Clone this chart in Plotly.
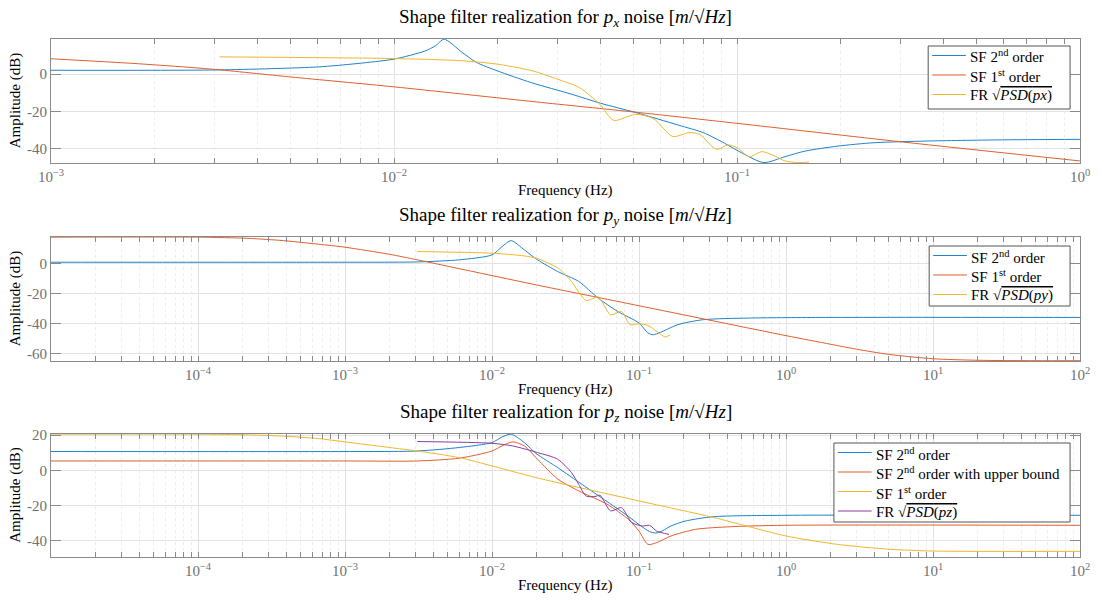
import plotly.graph_objects as go

# ---------------- data ----------------
# Subplot 1 : p_x
px_sf2_f = [1e-3, 3.1e-3, 6e-3, 7.8e-3, 1e-2, 1.23e-2, 1.32e-2, 1.4e-2, 1.58e-2, 1.74e-2, 2.0e-2,
            2.51e-2, 3.3e-2, 4.0e-2, 5.07e-2, 6.76e-2, 7.98e-2, 9.2e-2, 0.1038, 0.1197, 0.138,
            0.158, 0.197, 0.251, 0.358, 0.575, 1.0]
px_sf2_db = [2.1, 2.3, 3.9, 5.7, 8.1, 12.4, 15.2, 18.8, 11.7, 6.3, 1.8,
             -4.5, -10.8, -15.6, -20.6, -27.4, -31.4, -37.1, -42.5, -47.5, -44.3,
             -41.3, -38.6, -36.8, -35.9, -35.3, -35.0]
px_sf1_f = [1e-3, 1.8e-3, 2.95e-3, 5e-3, 1e-2, 2.6e-2, 5e-2, 0.1, 0.303, 1.0]
px_sf1_db = [8.3, 5.6, 2.7, -1.5, -6.8, -14.9, -20.3, -26.4, -36.4, -46.6]
px_fr_f = [3.1e-3, 1e-2, 1.58e-2, 2.0e-2, 2.51e-2, 3.0e-2, 3.47e-2, 3.98e-2, 4.37e-2, 5.07e-2,
           5.71e-2, 6.5e-2, 7.24e-2, 7.78e-2, 8.71e-2, 9.42e-2, 0.1, 0.1086, 0.1183, 0.1288,
           0.138, 0.151, 0.162]
px_fr_db = [9.3, 8.4, 7.2, 5.4, 2.0, -2.7, -7.2, -16.1, -24.8, -21.5,
            -23.9, -33.5, -31.4, -32.3, -40.4, -38.0, -39.5, -44.3, -41.6, -43.9,
            -46.6, -47.5, -47.2]

# Subplot 2 : p_y
py_sf2_f = [1e-5, 1e-3, 3.1e-3, 6e-3, 1e-2, 1.17e-2, 1.35e-2, 1.66e-2, 2.04e-2, 2.8e-2, 3.89e-2,
            5.28e-2, 7.16e-2, 0.1, 0.115, 0.125, 0.14, 0.184, 0.272, 0.558, 1.7, 100.0]
py_sf2_db = [1.1, 1.1, 1.3, 2.7, 6.0, 11.5, 15.5, 9.3, 2.7, -5.1, -11.7,
             -22.8, -31.7, -39.4, -46.0, -47.2, -45.6, -40.5, -37.2, -36.1, -35.7, -35.7]
py_sf1_f = [1e-5, 1e-4, 2.19e-4, 3.8e-4, 6.6e-4, 1e-3, 2e-3, 3.1e-3, 1e-2, 2e-2, 0.1, 1.0,
            2.0, 3.0, 5.0, 10.0, 20.0, 50.0, 100.0]
py_sf1_db = [17.8, 17.8, 17.0, 15.5, 13.1, 11.1, 6.4, 2.7, -7.8, -14.0, -27.9, -47.8,
             -53.5, -56.8, -60.3, -63.2, -64.2, -64.5, -64.5]
py_fr_f = [3.1e-3, 1e-2, 1.66e-2, 2e-2, 2.82e-2, 3.47e-2, 4.37e-2, 5.28e-2, 6.41e-2, 7.59e-2,
           8.71e-2, 0.1, 0.115, 0.132, 0.151, 0.163]
py_fr_db = [8.2, 7.1, 5.3, 3.8, -2.9, -11.7, -24.4, -22.1, -33.9, -31.7,
            -40.5, -39.9, -41.0, -45.0, -48.7, -47.2]

# Subplot 3 : p_z
pz_sf2_f = [1e-5, 1e-3, 3.1e-3, 6e-3, 1e-2, 1.17e-2, 1.35e-2, 1.66e-2, 2.0e-2, 2.8e-2, 4.12e-2,
            6.07e-2, 8.47e-2, 0.1, 0.118, 0.13, 0.145, 0.165, 0.206, 0.321, 1.0, 100.0]
pz_sf2_db = [10.7, 10.7, 11.0, 13.0, 15.8, 19.0, 20.6, 15.8, 9.5, 1.5, -8.2,
             -17.9, -26.3, -31.0, -35.0, -35.8, -34.5, -31.8, -29.0, -26.5, -25.7, -25.7]
pz_sf2ub_f = [1e-5, 1e-3, 3.1e-3, 6e-3, 1e-2, 1.17e-2, 1.38e-2, 1.66e-2, 2.04e-2, 2.8e-2, 3.89e-2,
              6.07e-2, 8.47e-2, 0.1, 0.115, 0.132, 0.165, 0.243, 0.424, 0.97, 100.0]
pz_sf2ub_db = [5.3, 5.3, 5.3, 6.9, 11.0, 13.9, 16.2, 13.9, 6.3, -5.0, -11.8,
               -19.4, -28.0, -34.7, -42.3, -41.3, -37.5, -33.7, -32.2, -31.4, -31.4]
pz_sf1_f = [1e-5, 1e-4, 2.19e-4, 3.8e-4, 6.6e-4, 1e-3, 2e-3, 3.1e-3, 6e-3, 1e-2, 2e-2, 0.1,
            0.324, 1.0, 2.24, 5.1, 10.0, 100.0]
pz_sf1_db = [20.6, 20.6, 20.2, 19.5, 18.1, 16.2, 13.0, 11.0, 7.2, 2.5, -4.2, -17.5,
             -27.0, -37.5, -42.3, -45.1, -46.1, -46.3]
pz_fr_f = [3.1e-3, 1e-2, 1.38e-2, 2.04e-2, 2.8e-2, 3.47e-2, 3.89e-2, 4.37e-2, 5.01e-2, 5.43e-2,
           6.41e-2, 7.59e-2, 8.95e-2, 0.1057, 0.118, 0.132, 0.16]
pz_fr_db = [16.4, 15.4, 13.9, 10.1, 6.3, -1.3, -8.0, -14.7, -15.0, -14.3,
            -23.2, -21.3, -29.9, -31.8, -31.4, -34.7, -36.6]

# series names
sf2_name = "SF 2<sup>nd</sup> order"
sf1_name = "SF 1<sup>st</sup> order"
sf2ub_name = "SF 2<sup>nd</sup> order with upper bound"
OV = '<span style="text-decoration:overline">'
frx_name = "FR √" + OV + "<i>PSD</i>(<i>px</i>)</span>"
fry_name = "FR √" + OV + "<i>PSD</i>(<i>py</i>)</span>"
frz_name = "FR √" + OV + "<i>PSD</i>(<i>pz</i>)</span>"

# tick labels
x1_ticks = [1e-3, 1e-2, 1e-1, 1.0]
x1_text = ["10<sup>−3</sup>", "10<sup>−2</sup>", "10<sup>−1</sup>", "10<sup>0</sup>"]
x23_ticks = [1e-4, 1e-3, 1e-2, 1e-1, 1.0, 10.0, 100.0]
x23_text = ["10<sup>−4</sup>", "10<sup>−3</sup>", "10<sup>−2</sup>", "10<sup>−1</sup>",
            "10<sup>0</sup>", "10<sup>1</sup>", "10<sup>2</sup>"]
y1_ticks = [-40, -20, 0]
y2_ticks = [-60, -40, -20, 0]
y3_ticks = [-40, -20, 0, 20]

# ---------------- style ----------------
BLUE = "#1f82cc"
ORANGE = "#df5f2f"
YELLOW = "#efb72e"
PURPLE = "#8a3f9c"
FONT = "Liberation Serif"
AXC = "#8a8a8a"
TICKC = "#707070"

W, H = 1102, 600
L, R, T, B = 51, 14, 39, 43
PW, PH = W - L - R, H - T - B


def py2paper(py):
    return 1 - (py - T) / PH


def px2paper(px):
    return (px - L) / PW


fig = go.Figure()

panels = [
    dict(xa="x", ya="y", series=[(px_sf2_f, px_sf2_db, sf2_name, BLUE),
                                 (px_sf1_f, px_sf1_db, sf1_name, ORANGE),
                                 (px_fr_f, px_fr_db, frx_name, YELLOW)],
         box=(935, 46, 1078, 109)),
    dict(xa="x2", ya="y2", series=[(py_sf2_f, py_sf2_db, sf2_name, BLUE),
                                   (py_sf1_f, py_sf1_db, sf1_name, ORANGE),
                                   (py_fr_f, py_fr_db, fry_name, YELLOW)],
         box=(936, 246, 1078, 306)),
    dict(xa="x3", ya="y3", series=[(pz_sf2_f, pz_sf2_db, sf2_name, BLUE),
                                   (pz_sf2ub_f, pz_sf2ub_db, sf2ub_name, ORANGE),
                                   (pz_sf1_f, pz_sf1_db, sf1_name, YELLOW),
                                   (pz_fr_f, pz_fr_db, frz_name, PURPLE)],
         box=(840, 443, 1078, 522)),
]

shapes = []
ann = []
for p in panels:
    for (x, y, name, color) in p["series"]:
        fig.add_trace(go.Scatter(x=x, y=y, name=name, mode="lines", showlegend=False,
                                 line=dict(color=color, width=1, shape="spline", smoothing=0.7),
                                 xaxis=p["xa"], yaxis=p["ya"]))
    # legend box (drawn like the MATLAB legend)
    x0, y0, x1, y1 = p["box"]
    shapes.append(dict(type="rect", xref="paper", yref="paper",
                       x0=px2paper(x0), x1=px2paper(x1), y0=py2paper(y1), y1=py2paper(y0),
                       line=dict(color="#555555", width=1), fillcolor="white", layer="above"))
    for k, (_, _, name, color) in enumerate(p["series"]):
        ry = y0 + 9.5 + 19.5 * k
        shapes.append(dict(type="line", xref="paper", yref="paper",
                           x0=px2paper(x0 + 4), x1=px2paper(x0 + 38),
                           y0=py2paper(ry), y1=py2paper(ry),
                           line=dict(color=color, width=1), layer="above"))
        ann.append(dict(text=name, x=px2paper(x0 + 40), y=py2paper(ry + 1), xref="paper", yref="paper",
                        showarrow=False, xanchor="left", yanchor="middle",
                        font=dict(family=FONT, size=15, color="black")))

doms = [(39, 163), (237, 361), (434, 557)]
yr = [(-47.7, 18.9), (-64.7, 17.9), (-49.5, 20.7)]
xr = [(-3, 0), (-5, 2), (-5, 2)]
yt = [y1_ticks, y2_ticks, y3_ticks]

minor1 = [m * 10.0 ** e for e in range(-3, 0) for m in range(2, 10)]
minor23 = [m * 10.0 ** e for e in range(-5, 2) for m in range(2, 10)]

for i in range(3):
    top, bot = doms[i]
    xk = "xaxis" if i == 0 else f"xaxis{i+1}"
    yk = "yaxis" if i == 0 else f"yaxis{i+1}"
    xt = x1_ticks if i == 0 else x23_ticks
    xtt = x1_text if i == 0 else x23_text
    fig.layout[xk] = dict(
        type="log", range=list(xr[i]), domain=[0, 1], anchor=f"y{'' if i == 0 else i+1}",
        tickmode="array", tickvals=xt, ticktext=xtt,
        ticks="inside", ticklen=5, tickcolor=AXC, tickwidth=1,
        showline=True, linecolor=AXC, linewidth=1, mirror="ticks",
        showgrid=True, gridcolor="#e2e2e2", gridwidth=1,
        minor=dict(tickmode="array", tickvals=minor1 if i == 0 else minor23,
                   ticks="inside", ticklen=5, tickcolor=AXC,
                   showgrid=True, gridcolor="#ededed", griddash="dot", gridwidth=1),
        tickfont=dict(family=FONT, size=15, color=TICKC),
        zeroline=False,
    )
    fig.layout[yk] = dict(
        range=list(yr[i]), domain=[py2paper(bot), py2paper(top)],
        anchor=f"x{'' if i == 0 else i+1}",
        tickmode="array", tickvals=yt[i], ticktext=[str(v) for v in yt[i]],
        ticks="inside", ticklen=10, tickcolor=AXC,
        showline=True, linecolor=AXC, linewidth=1, mirror="ticks",
        showgrid=True, gridcolor="#e2e2e2", gridwidth=1,
        tickfont=dict(family=FONT, size=15, color=TICKC),
        zeroline=False,
    )

titles = ["Shape filter realization for <i>p</i><sub><i>x</i></sub> noise [<i>m</i>/√<i>Hz</i>]",
          "Shape filter realization for <i>p</i><sub><i>y</i></sub> noise [<i>m</i>/√<i>Hz</i>]",
          "Shape filter realization for <i>p</i><sub><i>z</i></sub> noise [<i>m</i>/√<i>Hz</i>]"]
title_y = [18, 216, 413]
freq_y = [190, 389, 585]
cx = px2paper((L + W - R) / 2)
for i in range(3):
    top, bot = doms[i]
    ann.append(dict(text=titles[i], x=cx, y=py2paper(title_y[i]), xref="paper", yref="paper",
                    showarrow=False, xanchor="center", yanchor="middle",
                    font=dict(family=FONT, size=19, color="black")))
    ann.append(dict(text="Frequency (Hz)", x=cx, y=py2paper(freq_y[i]), xref="paper", yref="paper",
                    showarrow=False, xanchor="center", yanchor="middle",
                    font=dict(family=FONT, size=15, color="black")))
    ann.append(dict(text="Amplitude (dB)", x=px2paper(15), y=py2paper((top + bot) / 2),
                    xref="paper", yref="paper", textangle=-90,
                    showarrow=False, xanchor="center", yanchor="middle",
                    font=dict(family=FONT, size=15, color="black")))

fig.update_layout(
    width=W, height=H, margin=dict(l=L, r=R, t=T, b=B),
    paper_bgcolor="white", plot_bgcolor="white",
    annotations=ann, shapes=shapes, showlegend=False,
)

fig.write_html("out.html")
